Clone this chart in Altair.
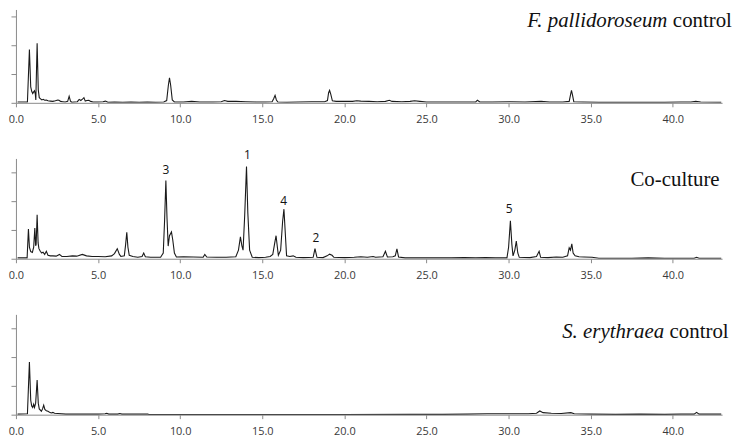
import altair as alt
import pandas as pd

# ---- data (retention time in min, signal in axis-tick units) ----
FP_X = [0.10,0.70,0.82,0.90,0.96,1.02,1.08,1.13,1.18,1.21,1.29,1.36,1.42,1.50,1.58,1.66,1.75,1.85,1.95,2.10,
        2.25,2.40,2.55,2.62,2.72,2.85,3.00,3.15,3.24,3.32,3.40,3.55,3.74,3.85,3.95,4.05,4.14,4.22,4.32,4.44,
        4.55,4.70,5.00,5.30,5.45,5.60,6.00,6.50,7.00,7.50,8.00,8.50,9.00,9.18,9.28,9.35,9.42,9.52,9.65,10.20,
        10.70,11.20,12.00,12.50,12.70,12.90,13.40,14.00,14.60,15.20,15.60,15.70,15.78,15.86,15.95,16.50,17.20,18.00,18.80,18.97,
        19.04,19.10,19.17,19.27,19.50,20.00,20.50,20.75,21.00,21.50,22.00,22.50,22.74,22.90,23.50,24.00,24.27,24.60,25.00,26.00,
        27.00,28.00,28.10,28.25,29.00,30.10,31.00,31.98,32.50,33.30,33.69,33.78,33.83,33.90,33.97,34.50,35.50,36.50,37.50,38.50,
        39.50,40.50,41.10,41.40,41.70,42.95]
FP_Y = [0.03,0.03,1.85,0.55,0.40,0.32,0.38,0.42,0.30,0.10,2.07,0.45,0.18,0.14,0.10,0.12,0.09,0.10,0.07,0.06,
        0.05,0.07,0.10,0.09,0.05,0.04,0.03,0.05,0.23,0.06,0.02,0.03,0.04,0.12,0.08,0.13,0.18,0.06,0.08,0.09,
        0.05,0.03,0.03,0.04,0.06,0.02,0.03,0.02,0.03,0.02,0.03,0.02,0.03,0.08,0.60,0.87,0.62,0.10,0.03,0.03,
        0.05,0.03,0.03,0.04,0.08,0.05,0.05,0.04,0.03,0.03,0.04,0.15,0.26,0.10,0.03,0.02,0.03,0.04,0.04,0.08,
        0.35,0.43,0.30,0.07,0.05,0.05,0.05,0.07,0.06,0.05,0.04,0.05,0.09,0.05,0.04,0.05,0.07,0.05,0.03,0.03,
        0.03,0.03,0.09,0.03,0.03,0.04,0.03,0.05,0.03,0.03,0.05,0.30,0.43,0.25,0.04,0.03,0.02,0.02,0.02,0.02,
        0.02,0.03,0.03,0.05,0.03,0.02]

CO_X = [0.10,0.68,0.76,0.82,0.90,1.00,1.08,1.15,1.20,1.23,1.29,1.35,1.40,1.49,1.57,1.65,1.75,1.85,1.95,2.10,
        2.25,2.45,2.65,2.80,3.10,3.44,3.70,4.04,4.30,4.64,5.00,5.43,5.83,6.00,6.17,6.30,6.39,6.60,6.68,6.75,
        6.82,6.90,7.12,7.42,7.68,7.78,7.88,8.20,8.81,8.97,9.05,9.13,9.20,9.27,9.35,9.47,9.55,9.65,9.77,10.20,
        10.80,11.40,11.50,11.62,12.20,12.80,13.39,13.55,13.67,13.76,13.83,13.93,14.04,14.12,14.23,14.39,14.79,15.20,15.48,15.64,
        15.76,15.84,15.92,15.98,16.12,16.24,16.32,16.40,16.48,16.68,16.88,17.05,17.50,18.10,18.21,18.33,18.70,18.95,19.10,19.25,
        19.36,20.00,20.60,21.00,21.40,21.75,21.90,22.35,22.50,22.62,22.95,23.10,23.20,23.30,23.70,24.50,25.50,26.50,27.30,28.00,
        28.60,29.20,29.90,30.00,30.11,30.20,30.27,30.38,30.47,30.56,30.65,31.30,31.70,31.86,31.95,32.40,32.90,33.30,33.59,33.69,
        33.77,33.85,33.93,34.05,34.29,34.60,35.08,35.50,36.50,37.50,38.50,39.50,40.50,41.30,41.45,41.60,42.95]
CO_Y = [0.03,0.03,1.03,0.40,0.25,0.22,0.40,1.07,0.45,0.50,1.53,0.55,0.35,0.25,0.20,0.23,0.15,0.26,0.12,0.10,
        0.10,0.09,0.15,0.08,0.08,0.10,0.09,0.15,0.10,0.08,0.08,0.07,0.10,0.18,0.35,0.15,0.08,0.10,0.50,0.92,
        0.40,0.12,0.08,0.05,0.08,0.20,0.07,0.05,0.05,0.20,1.30,2.71,1.40,0.44,0.80,0.93,0.65,0.20,0.06,0.07,
        0.06,0.05,0.15,0.06,0.05,0.05,0.07,0.30,0.76,0.45,0.30,1.50,3.20,1.60,0.30,0.05,0.04,0.05,0.08,0.15,
        0.55,0.80,0.40,0.12,0.30,1.30,1.72,0.90,0.10,0.08,0.10,0.05,0.04,0.05,0.35,0.05,0.04,0.10,0.16,0.12,
        0.05,0.04,0.05,0.07,0.05,0.08,0.05,0.07,0.26,0.06,0.07,0.10,0.34,0.06,0.03,0.03,0.03,0.03,0.04,0.03,
        0.04,0.03,0.03,0.40,1.32,0.50,0.10,0.30,0.61,0.20,0.05,0.04,0.08,0.26,0.05,0.04,0.06,0.05,0.10,0.38,
        0.30,0.52,0.20,0.10,0.07,0.06,0.05,0.02,0.02,0.02,0.03,0.02,0.02,0.02,0.05,0.02,0.02]

SE_X = [0.10,0.70,0.82,0.90,0.96,1.02,1.08,1.13,1.20,1.29,1.36,1.42,1.55,1.62,1.69,1.76,1.85,1.95,2.05,2.15,
        2.25,2.35,2.55,3.04,4.00,5.00,5.43,5.53,5.65,6.20,6.33,6.45,7.20,8.02,8.10,12.00,16.00,20.00,24.00,26.00,
        27.50,28.70,29.50,30.50,31.20,31.70,31.90,32.10,32.60,33.20,33.79,34.00,35.00,36.50,38.00,39.50,40.50,41.30,41.45,41.60,
        42.95]
SE_Y = [0.02,0.03,1.83,0.50,0.30,0.25,0.36,0.25,0.40,1.20,0.40,0.20,0.12,0.20,0.33,0.18,0.14,0.12,0.08,0.06,
        0.08,0.05,0.04,0.02,0.02,0.02,0.03,0.05,0.02,0.02,0.04,0.02,0.02,0.02,0.005,0.005,0.005,0.005,0.01,0.01,
        0.02,0.03,0.03,0.03,0.03,0.05,0.13,0.07,0.05,0.04,0.07,0.03,0.02,0.01,0.02,0.01,0.02,0.02,0.08,0.02,
        0.02]

# panel titles: (italic part, regular part, x end, top y)
TITLE_ITALIC = ["F. pallidoroseum", "", "S. erythraea"]
TITLE_REGULAR = ["control", "Co-culture", "control"]
TITLE_X = [43.6, 42.85, 43.4]
TITLE_Y = [3.22, 3.11, 3.25]

# peak numbers in the co-culture trace
PEAK_LABELS = ["3", "1", "4", "2", "5"]
PEAK_X = [9.13, 14.09, 16.30, 18.27, 30.03]
PEAK_Y = [2.93, 3.45, 1.86, 0.59, 1.59]

X_TICKS = [0, 5, 10, 15, 20, 25, 30, 35, 40]
Y_TICKS = [0, 1, 2, 3]

LINE_COLOR = "#1a1a1a"


def panel(xs, ys, idx, ymax, height):
    df = pd.DataFrame({"t": xs, "v": ys})
    xenc = alt.X("t:Q", scale=alt.Scale(domain=[0, 43], nice=False, zero=False),
                 axis=alt.Axis(values=X_TICKS, format=".1f", title=None, tickSize=4,
                               labelPadding=7, labelFlush=False, grid=False))
    yenc = alt.Y("v:Q", scale=alt.Scale(domain=[0, ymax], nice=False),
                 axis=alt.Axis(values=Y_TICKS, labels=False, title=None, tickSize=5, grid=False))
    line = alt.Chart(df).mark_line(color=LINE_COLOR, strokeWidth=1.1, clip=True).encode(x=xenc, y=yenc)

    tdf = pd.DataFrame({"t": [TITLE_X[idx]], "v": [TITLE_Y[idx]],
                        "reg": [TITLE_REGULAR[idx]], "ita": [TITLE_ITALIC[idx]]})
    reg = alt.Chart(tdf).mark_text(align="right", baseline="top", font="Liberation Serif",
                                   fontSize=21, color="#111111").encode(x=xenc, y=yenc, text="reg:N")
    layers = [line, reg]
    if TITLE_ITALIC[idx]:
        ita = alt.Chart(tdf).mark_text(align="right", baseline="top", font="Liberation Serif",
                                       fontSize=21, fontStyle="italic", color="#111111",
                                       dx=-65).encode(x=xenc, y=yenc, text="ita:N")
        layers.append(ita)
    if idx == 1:
        pdf = pd.DataFrame({"t": PEAK_X, "v": PEAK_Y, "lab": PEAK_LABELS})
        peaks = alt.Chart(pdf).mark_text(align="center", baseline="alphabetic", font="Open Sans",
                                         fontSize=12, color="#111111").encode(x=xenc, y=yenc, text="lab:N")
        layers.append(peaks)
    return alt.layer(*layers).properties(width=711, height=height)


p1 = panel(FP_X, FP_Y, 0, 3.24, 94)
p2 = panel(CO_X, CO_Y, 1, 3.48, 101)
p3 = panel(SE_X, SE_Y, 2, 3.48, 101)

chart = alt.vconcat(p1, p2, p3, spacing=56, bounds="flush").properties(
    padding={"left": 0, "top": 0, "right": 0, "bottom": 0}
).configure_axis(
    domainColor="#8a8a8a", tickColor="#8a8a8a", labelFont="Open Sans", labelFontSize=11,
    labelColor="#3a3a3a", grid=False
).configure_view(strokeWidth=0)

chart.save("out.html", embed_options={"renderer": "svg", "actions": False})
